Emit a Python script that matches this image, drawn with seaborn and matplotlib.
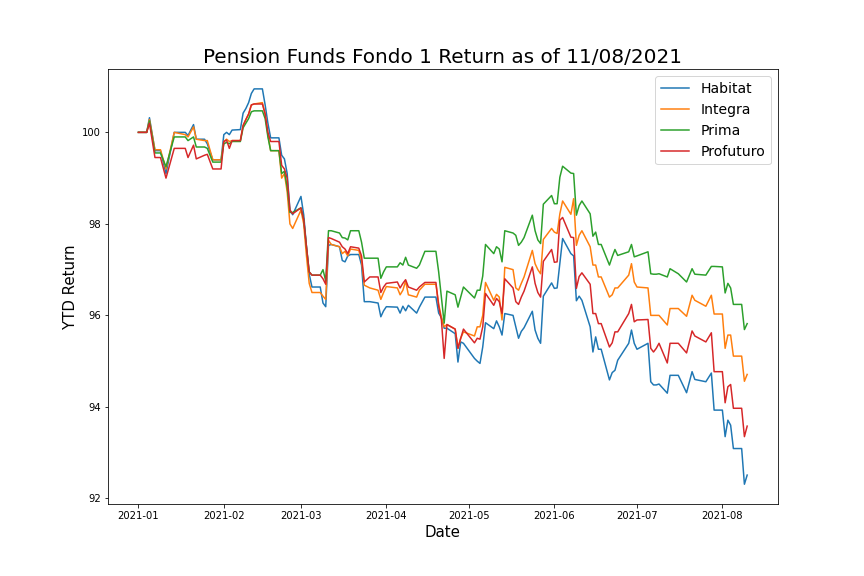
import matplotlib
matplotlib.use("Agg")
import matplotlib.pyplot as plt
import matplotlib.dates as mdates
import seaborn as sns
import pandas as pd

dates = [
    "2021-01-01", "2021-01-04", "2021-01-05", "2021-01-07", "2021-01-09", "2021-01-11",
    "2021-01-14", "2021-01-18", "2021-01-19", "2021-01-21", "2021-01-22", "2021-01-25",
    "2021-01-26", "2021-01-28", "2021-01-31", "2021-02-01", "2021-02-02", "2021-02-03",
    "2021-02-04", "2021-02-07", "2021-02-08", "2021-02-09", "2021-02-10", "2021-02-11",
    "2021-02-12", "2021-02-15", "2021-02-16", "2021-02-17", "2021-02-18", "2021-02-21",
    "2021-02-22", "2021-02-23", "2021-02-24", "2021-02-25", "2021-02-26", "2021-03-01",
    "2021-03-02", "2021-03-03", "2021-03-04", "2021-03-05", "2021-03-08", "2021-03-09",
    "2021-03-10", "2021-03-11", "2021-03-12", "2021-03-15", "2021-03-16", "2021-03-17",
    "2021-03-18", "2021-03-19", "2021-03-22", "2021-03-23", "2021-03-24", "2021-03-26",
    "2021-03-29", "2021-03-30", "2021-03-31", "2021-04-01", "2021-04-05", "2021-04-06",
    "2021-04-07", "2021-04-08", "2021-04-09", "2021-04-12", "2021-04-13", "2021-04-15",
    "2021-04-19", "2021-04-20", "2021-04-21", "2021-04-22", "2021-04-23", "2021-04-26",
    "2021-04-27", "2021-04-28", "2021-04-29", "2021-05-03", "2021-05-04", "2021-05-05",
    "2021-05-06", "2021-05-07", "2021-05-10", "2021-05-11", "2021-05-12", "2021-05-13",
    "2021-05-14", "2021-05-17", "2021-05-18", "2021-05-19", "2021-05-20", "2021-05-21",
    "2021-05-24", "2021-05-25", "2021-05-26", "2021-05-27", "2021-05-28", "2021-05-31",
    "2021-06-01", "2021-06-02", "2021-06-03", "2021-06-04", "2021-06-07", "2021-06-08",
    "2021-06-09", "2021-06-10", "2021-06-11", "2021-06-14", "2021-06-15", "2021-06-16",
    "2021-06-17", "2021-06-18", "2021-06-21", "2021-06-22", "2021-06-23", "2021-06-24",
    "2021-06-28", "2021-06-29", "2021-06-30", "2021-07-01", "2021-07-05", "2021-07-06",
    "2021-07-07", "2021-07-08", "2021-07-09", "2021-07-12", "2021-07-13", "2021-07-16",
    "2021-07-19", "2021-07-21", "2021-07-22", "2021-07-26", "2021-07-28", "2021-07-29",
    "2021-08-01", "2021-08-02", "2021-08-03", "2021-08-04", "2021-08-05", "2021-08-08",
    "2021-08-09", "2021-08-10",
]

habitat = [
    100.0, 100.0, 100.32, 99.6, 99.6, 99.1,
    100.0, 100.0, 99.93, 100.17, 99.85, 99.85,
    99.75, 99.4, 99.4, 99.95, 100.0, 99.95,
    100.05, 100.06, 100.42, 100.52, 100.65, 100.85,
    100.95, 100.95, 100.6, 100.2, 99.88, 99.88,
    99.5, 99.42, 99.1, 98.3, 98.2, 98.6,
    98.2, 97.5, 96.9, 96.62, 96.62, 96.27,
    96.19, 97.53, 97.55, 97.5, 97.2, 97.17,
    97.3, 97.33, 97.33, 97.1, 96.3, 96.3,
    96.27, 95.97, 96.1, 96.19, 96.18, 96.05,
    96.2, 96.1, 96.22, 96.05, 96.18, 96.4,
    96.4, 96.05, 95.95, 95.72, 95.72, 95.6,
    94.98, 95.42, 95.39, 95.06, 95.0, 94.95,
    95.31, 95.84, 95.71, 95.88, 95.75, 95.57,
    96.04, 96.0, 95.75, 95.5, 95.65, 95.73,
    96.09, 95.68, 95.5, 95.39, 96.42, 96.71,
    96.59, 96.6, 97.13, 97.68, 97.35, 97.3,
    96.32, 96.42, 96.33, 95.75, 95.2, 95.53,
    95.26, 95.26, 94.59, 94.75, 94.8, 95.02,
    95.39, 95.68, 95.39, 95.26, 95.39, 94.55,
    94.48, 94.48, 94.5, 94.3, 94.69, 94.69,
    94.31, 94.77, 94.6, 94.55, 94.74, 93.93,
    93.93, 93.35, 93.71, 93.6, 93.09, 93.09,
    92.31, 92.51,
]

integra = [
    100.0, 100.0, 100.28, 99.62, 99.62, 99.2,
    100.0, 99.95, 99.9, 100.12, 99.85, 99.82,
    99.82, 99.4, 99.4, 99.8, 99.85, 99.8,
    99.82, 99.82, 100.15, 100.28, 100.4, 100.6,
    100.62, 100.65, 100.4, 99.95, 99.6, 99.6,
    99.0, 99.1, 98.7, 98.0, 97.9, 98.3,
    98.0, 97.3, 96.7, 96.5, 96.5, 96.42,
    96.35, 97.64, 97.55, 97.5, 97.35, 97.4,
    97.3, 97.45, 97.42, 97.2, 96.66, 96.6,
    96.55, 96.35, 96.5, 96.63, 96.6, 96.45,
    96.55, 96.75, 96.45, 96.4, 96.55, 96.68,
    96.68, 96.25, 95.95, 95.75, 95.8, 95.7,
    95.28, 95.5, 95.64, 95.55, 95.75, 95.75,
    96.0, 96.72, 96.33, 96.46, 96.4, 95.9,
    97.05, 97.0, 96.6, 96.55, 96.7, 96.84,
    97.42, 97.13, 97.0, 96.91, 97.66, 97.9,
    97.82, 97.79, 98.22, 98.5, 98.21, 98.55,
    97.53, 97.75, 97.85, 97.5, 97.1, 97.1,
    96.84, 96.84, 96.4, 96.45, 96.6, 96.6,
    96.88, 97.13, 96.73, 96.62, 96.6, 96.0,
    96.0, 96.0, 96.0, 95.79, 96.15, 96.15,
    95.98, 96.44, 96.33, 96.2, 96.44, 96.03,
    96.03, 95.28, 95.57, 95.57, 95.11, 95.11,
    94.56, 94.71,
]

prima = [
    100.0, 100.0, 100.25, 99.55, 99.55, 99.25,
    99.9, 99.9, 99.82, 99.9, 99.68, 99.68,
    99.65, 99.35, 99.35, 99.75, 99.78, 99.75,
    99.8, 99.8, 100.1, 100.2, 100.3, 100.45,
    100.47, 100.47, 100.3, 99.9, 99.6, 99.6,
    99.1, 99.15, 98.8, 98.25, 98.25, 98.35,
    98.1, 97.5, 96.95, 96.88, 96.88, 97.0,
    96.75, 97.85, 97.85, 97.8, 97.7, 97.69,
    97.65, 97.85, 97.85, 97.6, 97.25, 97.25,
    97.25, 96.81, 96.95, 97.06, 97.06, 97.15,
    97.1, 97.27, 97.1, 97.03, 97.1, 97.4,
    97.4, 96.95, 96.4, 95.83, 96.53, 96.45,
    96.18, 96.4, 96.62, 96.38, 96.55, 96.55,
    96.86, 97.55, 97.35, 97.5, 97.45, 97.17,
    97.85, 97.8, 97.75, 97.53, 97.6, 97.7,
    98.19, 97.85, 97.65, 97.57, 98.43, 98.62,
    98.44, 98.44, 99.02, 99.26, 99.11, 99.1,
    98.19, 98.4, 98.5, 98.22, 97.73, 97.82,
    97.55, 97.55, 97.1, 97.28, 97.44, 97.31,
    97.39, 97.55, 97.28, 97.3, 97.39, 96.91,
    96.9, 96.9, 96.91, 96.84, 97.02, 96.91,
    96.73, 97.02, 96.9, 96.88, 97.07, 97.07,
    97.06, 96.49, 96.7, 96.6, 96.24, 96.24,
    95.69, 95.82,
]

profuturo = [
    100.0, 100.0, 100.2, 99.45, 99.45, 99.0,
    99.65, 99.65, 99.45, 99.72, 99.42, 99.5,
    99.52, 99.2, 99.2, 99.8, 99.83, 99.65,
    99.82, 99.82, 100.15, 100.28, 100.4, 100.6,
    100.62, 100.62, 100.4, 100.0, 99.8, 99.8,
    99.28, 99.2, 99.0, 98.3, 98.22, 98.35,
    98.1, 97.5, 96.95, 96.88, 96.88, 96.8,
    96.68, 97.7, 97.68, 97.6, 97.5, 97.45,
    97.35, 97.5, 97.47, 97.3, 96.73, 96.84,
    96.84, 96.5, 96.62, 96.7, 96.73, 96.6,
    96.7, 96.78, 96.62, 96.55, 96.62, 96.72,
    96.72, 96.2, 95.9, 95.06, 95.8, 95.7,
    95.28, 95.5, 95.7, 95.4, 95.5, 95.48,
    95.75, 96.48, 96.22, 96.37, 96.3, 96.04,
    96.8, 96.6, 96.3, 96.24, 96.4, 96.53,
    97.06, 96.7, 96.5, 96.4, 97.18, 97.44,
    97.16, 97.17, 98.08, 98.14, 97.71, 97.7,
    96.59, 96.85, 96.93, 96.68, 96.04, 96.04,
    95.82, 95.82, 95.31, 95.4, 95.64, 95.64,
    96.04, 96.24, 95.86, 95.9, 95.91, 95.28,
    95.2, 95.28, 95.39, 94.96, 95.39, 95.39,
    95.18, 95.66, 95.55, 95.42, 95.62, 94.77,
    94.77, 94.09, 94.44, 94.49, 93.97, 93.97,
    93.35, 93.58,
]

funds = ["Habitat", "Integra", "Prima", "Profuturo"]
series = [habitat, integra, prima, profuturo]

frames = []
for name, vals in zip(funds, series):
    frames.append(pd.DataFrame({"Date": pd.to_datetime(dates), "YTD Return": vals, "Fund": name}))
df = pd.concat(frames, ignore_index=True)

fig, ax = plt.subplots(figsize=(12, 8), dpi=72)
fig.subplots_adjust(left=0.125, right=0.9, bottom=0.125, top=0.88)
sns.lineplot(data=df, x="Date", y="YTD Return", hue="Fund", hue_order=funds,
             palette=["#1f77b4", "#ff7f0e", "#2ca02c", "#d62728"], linewidth=1.5, ax=ax)

ax.set_title("Pension Funds Fondo 1 Return as of 11/08/2021", fontsize=20)
ax.set_xlabel("Date", fontsize=15)
ax.set_ylabel("YTD Return", fontsize=15)
ax.xaxis.set_major_locator(mdates.MonthLocator())
ax.xaxis.set_major_formatter(mdates.DateFormatter("%Y-%m"))
ax.set_yticks([92, 94, 96, 98, 100])
ax.tick_params(labelsize=10)
ax.legend(loc="upper right", fontsize=14, title=None)

fig.savefig("out.png", dpi=72)
